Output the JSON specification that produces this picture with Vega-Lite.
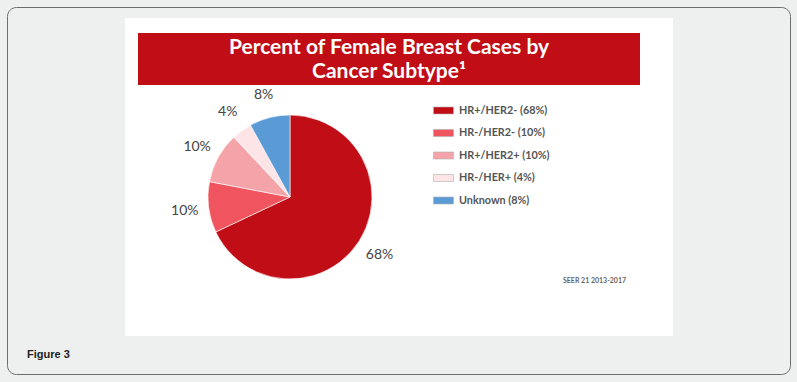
{
  "$schema": "https://vega.github.io/schema/vega-lite/v6.json",
  "width": 548,
  "height": 318,
  "autosize": {"type": "none"},
  "padding": {"left": 125, "top": 18, "right": 124, "bottom": 46},
  "background": "#eef0ef",
  "view": {"fill": "white", "stroke": null},
  "datasets": {
    "slices": [
      {"category": "HR+/HER2- (68%)", "value": 68, "label": "68%", "rank": 1},
      {"category": "HR-/HER2- (10%)", "value": 10, "label": "10%", "rank": 2},
      {"category": "HR+/HER2+ (10%)", "value": 10, "label": "10%", "rank": 3},
      {"category": "HR-/HER+ (4%)", "value": 4, "label": "4%", "rank": 4},
      {"category": "Unknown (8%)", "value": 8, "label": "8%", "rank": 5}
    ]
  },
  "layer": [
    {
      "data": {"values": [{"frame": "outer"}]},
      "mark": {"type": "rect", "fill": null, "stroke": "#6e6e6e", "strokeWidth": 1, "cornerRadius": 9, "x": -117.5, "x2": 665.5, "y": -10.5, "y2": 356.5, "clip": false},
      "encoding": {}
    },
    {
      "data": {"values": [{"banner": "title"}]},
      "mark": {"type": "rect", "color": "#c00d16", "x": 13, "x2": 515, "y": 15, "y2": 67},
      "encoding": {}
    },
    {
      "data": {"values": [{"t": "title"}]},
      "mark": {
        "type": "text",
        "text": ["Percent of Female Breast Cases by", "Cancer Subtype¹"],
        "x": 264, "y": 29.5, "align": "center", "baseline": "middle",
        "font": "Lato", "fontWeight": "bold", "fontSize": 21, "lineHeight": 24, "color": "white"
      },
      "encoding": {}
    },
    {
      "data": {"name": "slices"},
      "mark": {"type": "arc", "x": 165, "y": 179, "outerRadius": 82, "stroke": "white", "strokeWidth": 0.6},
      "encoding": {
        "theta": {"field": "value", "type": "quantitative", "stack": true},
        "order": {"field": "rank", "type": "quantitative"},
        "color": {
          "field": "category", "type": "nominal",
          "scale": {
            "domain": ["HR+/HER2- (68%)", "HR-/HER2- (10%)", "HR+/HER2+ (10%)", "HR-/HER+ (4%)", "Unknown (8%)"],
            "range": ["#c00d16", "#f0555f", "#f4a4a8", "#fde4e6", "#5a9bd5"]
          },
          "legend": {
            "title": null, "orient": "none", "legendX": 308, "legendY": 82,
            "symbolType": "M-1,-0.35H1V0.35H-1Z", "symbolSize": 400,
            "symbolStrokeColor": "#b0b0b0", "symbolStrokeWidth": 0.6,
            "labelFont": "Lato", "labelFontWeight": "bold", "labelFontSize": 10.8,
            "labelColor": "#555555", "labelOffset": 5, "rowPadding": 6.5
          }
        }
      }
    },
    {
      "data": {"name": "slices"},
      "mark": {"type": "text", "x": 165, "y": 180, "radius": 106, "font": "Lato", "fontSize": 14, "color": "#444444", "align": "center", "baseline": "middle"},
      "encoding": {
        "theta": {"field": "value", "type": "quantitative", "stack": true},
        "order": {"field": "rank", "type": "quantitative"},
        "text": {"field": "label", "type": "nominal"}
      }
    },
    {
      "data": {"values": [{"t": "source"}]},
      "mark": {"type": "text", "text": "SEER 21 2013-2017", "x": 438, "y": 263, "align": "left", "baseline": "middle", "font": "Lato", "fontWeight": "bold", "fontSize": 7, "color": "#666666"},
      "encoding": {}
    },
    {
      "data": {"values": [{"t": "caption"}]},
      "mark": {"type": "text", "text": "Figure 3", "x": -98, "y": 337, "align": "left", "baseline": "middle", "font": "Liberation Sans", "fontWeight": "bold", "fontSize": 11, "color": "#222222"},
      "encoding": {}
    }
  ]
}
